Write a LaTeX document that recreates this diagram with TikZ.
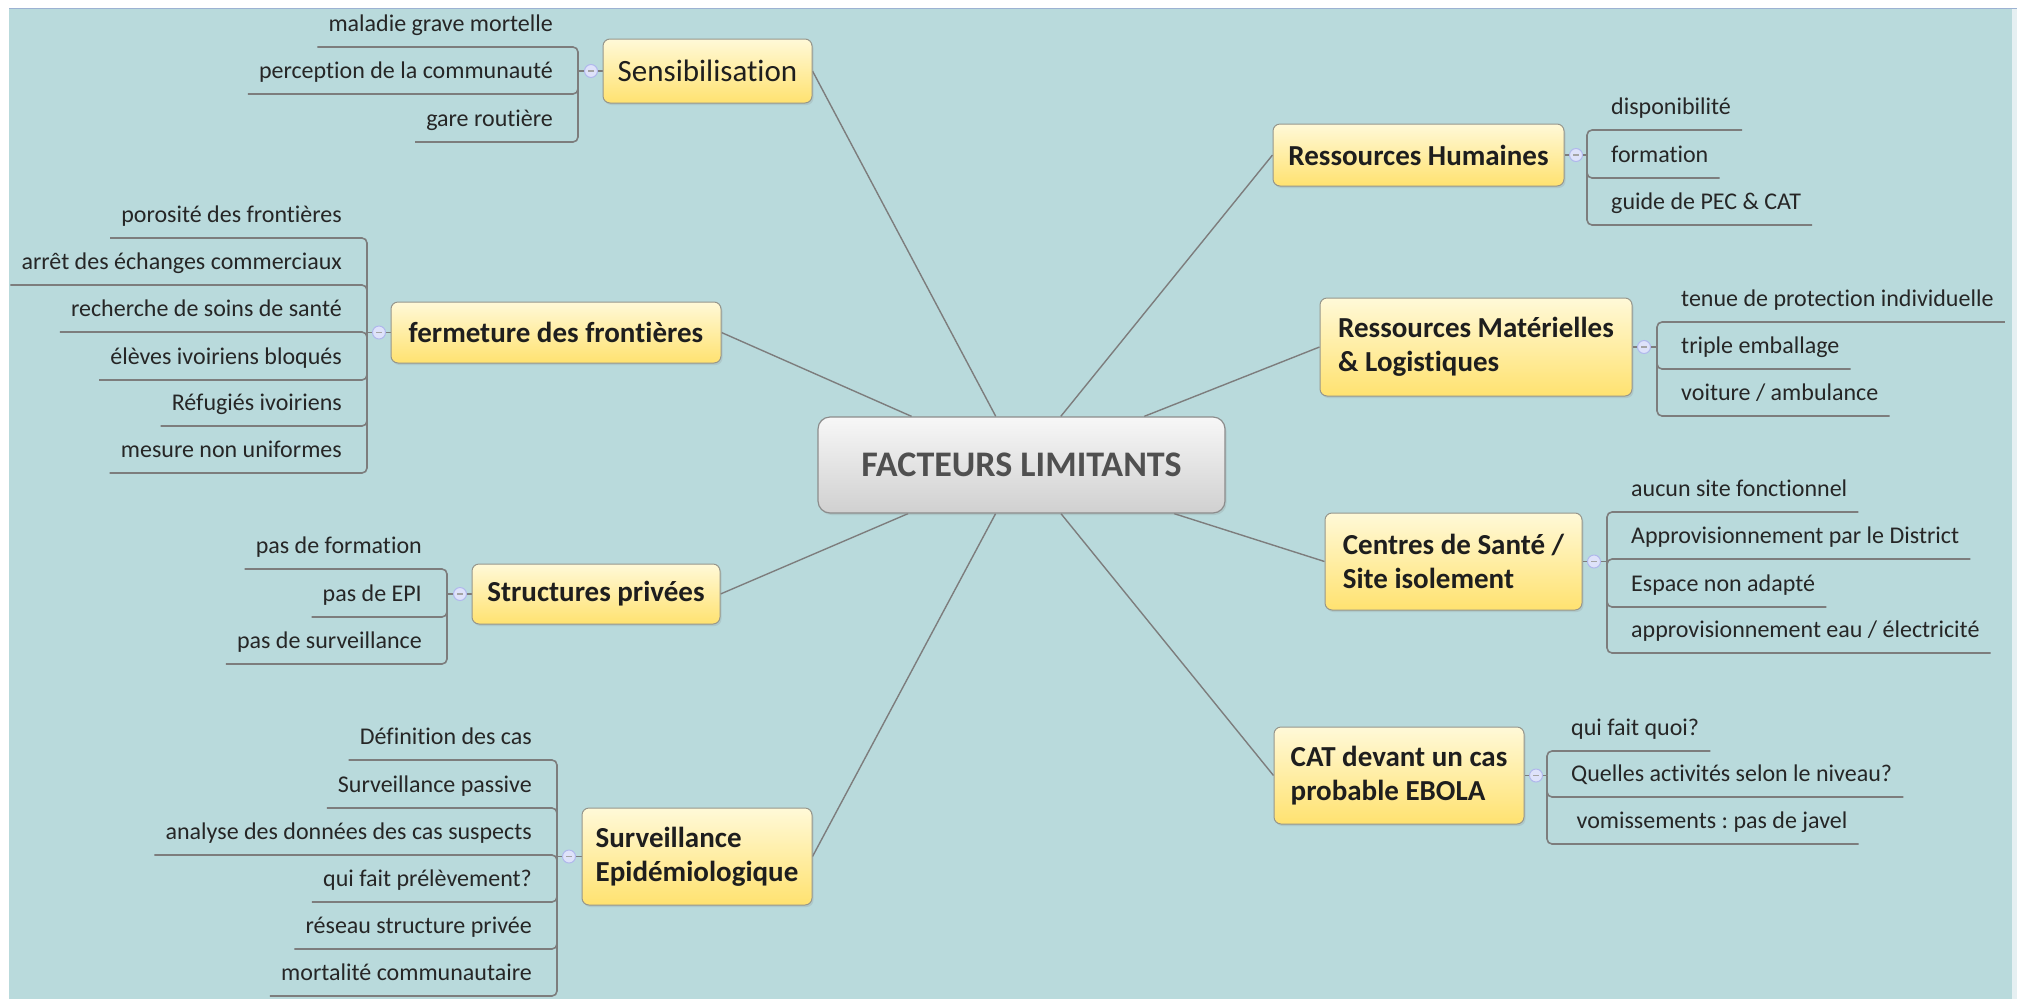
\documentclass[tikz,border=0pt]{standalone}
\usepackage{fontspec}
\setmainfont{Carlito}[Ligatures={NoCommon,NoRare,NoContextual}]
\frenchspacing
\usetikzlibrary{shadows,calc}
\pgfdeclarelayer{back}
\pgfdeclarelayer{lines}
\pgfsetlayers{back,lines,main}
\definecolor{bgc}{RGB}{185,218,220}
\definecolor{edgec}{RGB}{230,240,242}
\definecolor{topline}{RGB}{156,178,210}
\definecolor{conn}{RGB}{125,125,125}
\definecolor{ytop}{RGB}{255,249,216}
\definecolor{ybot}{RGB}{255,226,112}
\definecolor{yborder}{RGB}{150,150,140}
\definecolor{gtop}{RGB}{247,247,247}
\definecolor{gbot}{RGB}{208,208,208}
\definecolor{gborder}{RGB}{140,140,140}
\definecolor{ctext}{RGB}{80,80,80}
\definecolor{btext}{RGB}{30,30,30}
\definecolor{ltext}{RGB}{38,38,38}
\definecolor{circfill}{RGB}{222,226,250}
\definecolor{circdraw}{RGB}{176,184,236}
\tikzset{
 mainline/.style={draw=conn, line width=1.4pt},
 leafline/.style={draw=conn, line width=1.6pt, rounded corners=5pt},
 stubline/.style={draw=conn, line width=1.2pt},
 centerbox/.style={rectangle, rounded corners=12pt, draw=gborder, line width=1.2pt,
   top color=gtop, bottom color=gbot, text=ctext,
   font=\fontsize{36}{40}\selectfont\bfseries, inner sep=0pt,
   drop shadow={opacity=0.2, shadow xshift=1.5pt, shadow yshift=-2pt}},
 branchbox/.style={rectangle, rounded corners=7pt, draw=yborder, line width=1pt,
   top color=ytop, bottom color=ybot, text=btext, align=left, inner sep=0pt,
   font=\fontsize{29}{34}\selectfont\bfseries,
   drop shadow={opacity=0.18, shadow xshift=1.5pt, shadow yshift=-2pt}},
 sensbox/.style={branchbox, font=\fontsize{31}{36}\selectfont},
 leafR/.style={anchor=south west, inner xsep=11pt, inner ysep=15pt, text depth=0pt,
   text=ltext, font=\fontsize{24}{28}\selectfont},
 leafL/.style={leafR, anchor=south east},
 fold/.style={circle, minimum size=13pt, inner sep=0pt, fill=circfill, draw=circdraw,
   line width=1pt, path picture={\draw[conn!70, line width=1.2pt]
   ([xshift=-3pt]path picture bounding box.center) --
   ([xshift=3pt]path picture bounding box.center);}},
}
\begin{document}
\begin{tikzpicture}[x=1pt,y=-1pt]
\useasboundingbox (0,0) rectangle (2017,999);
\begin{pgfonlayer}{back}
\fill[edgec] (2012,8) rectangle (2017,999);
\fill[bgc] (9,8) rectangle (2012,999);
\draw[topline, line width=1.5pt] (9,8.5) -- (2017,8.5);
\end{pgfonlayer}

% central topic
\node[centerbox, minimum width=407pt, minimum height=96pt] (center) at (1021.5,465) {FACTEURS LIMITANTS};

% branch topics
\node[sensbox, minimum width=209pt, minimum height=64pt] (sens) at (707.5,71) {Sensibilisation};
\node[branchbox, minimum width=330pt, minimum height=61pt] (ferm) at (556,332.5) {fermeture des frontières};
\node[branchbox, minimum width=248pt, minimum height=60pt] (struct) at (596,594) {Structures privées};
\node[branchbox, minimum width=230pt, minimum height=97pt] (surv) at (697,856.5) {Surveillance\\Epidémiologique};
\node[branchbox, minimum width=291pt, minimum height=62pt] (rh) at (1418.5,155) {Ressources Humaines};
\node[branchbox, minimum width=312pt, minimum height=98pt] (rm) at (1476,347) {Ressources Matérielles\\\& Logistiques};
\node[branchbox, minimum width=257pt, minimum height=97pt] (cs) at (1453.5,561.5) {Centres de Santé /\\Site isolement};
\node[branchbox, minimum width=250pt, minimum height=97pt] (cat) at (1399,775.5) {CAT devant un cas\\probable EBOLA};

% fold circles
\node[fold] (sensc) at (591,71) {};
\node[fold] (fermc) at (379,332.5) {};
\node[fold] (structc) at (460,594) {};
\node[fold] (survc) at (569,856.5) {};
\node[fold] (rhc) at (1576,155) {};
\node[fold] (rmc) at (1644,347) {};
\node[fold] (csc) at (1594,561.5) {};
\node[fold] (catc) at (1536,775.5) {};

% junctions
\coordinate (sensj) at (578,71);
\coordinate (fermj) at (367,332.5);
\coordinate (structj) at (447,594);
\coordinate (survj) at (557,856.5);
\coordinate (rhj) at (1587,155);
\coordinate (rmj) at (1657,347);
\coordinate (csj) at (1607,561.5);
\coordinate (catj) at (1547,775.5);

% leaves : Sensibilisation
\node[leafL] (s1) at (564,47) {maladie grave mortelle};
\node[leafL] (s2) at (564,94) {perception de la communauté};
\node[leafL] (s3) at (564,142) {gare routière};
% fermeture
\node[leafL] (f1) at (353,238) {porosité des frontières};
\node[leafL] (f2) at (353,285) {arrêt des échanges commerciaux};
\node[leafL] (f3) at (353,332) {recherche de soins de santé};
\node[leafL] (f4) at (353,380) {élèves ivoiriens bloqués};
\node[leafL] (f5) at (353,426) {Réfugiés ivoiriens};
\node[leafL] (f6) at (353,473) {mesure non uniformes};
% structures
\node[leafL] (p1) at (433,569) {pas de formation};
\node[leafL] (p2) at (433,617) {pas de EPI};
\node[leafL] (p3) at (433,664) {pas de surveillance};
% surveillance
\node[leafL] (e1) at (543,760) {Définition des cas};
\node[leafL] (e2) at (543,808) {Surveillance passive};
\node[leafL] (e3) at (543,855) {analyse des données des cas suspects};
\node[leafL] (e4) at (543,902) {qui fait prélèvement?};
\node[leafL] (e5) at (543,949) {réseau structure privée};
\node[leafL] (e6) at (543,996) {mortalité communautaire};
% ressources humaines
\node[leafR] (h1) at (1600,130) {disponibilité};
\node[leafR] (h2) at (1600,178) {formation};
\node[leafR] (h3) at (1600,225) {guide de PEC \& CAT};
% ressources materielles
\node[leafR] (m1) at (1670,322) {tenue de protection individuelle};
\node[leafR] (m2) at (1670,369) {triple emballage};
\node[leafR] (m3) at (1670,416) {voiture / ambulance};
% centres de sante
\node[leafR] (c1) at (1620,512) {aucun site fonctionnel};
\node[leafR] (c2) at (1620,559) {Approvisionnement par le District};
\node[leafR] (c3) at (1620,607) {Espace non adapté};
\node[leafR] (c4) at (1620,653) {approvisionnement eau / électricité};
% CAT
\node[leafR] (a1) at (1560,751) {qui fait quoi?};
\node[leafR] (a2) at (1560,797) {Quelles activités selon le niveau?};
\node[leafR] (a3) at (1560,844) {\ vomissements : pas de javel};

\begin{pgfonlayer}{lines}
% main connectors
\foreach \b/\s in {sens/east, ferm/east, struct/east, surv/east, rh/west, rm/west, cs/west, cat/west}
  \draw[mainline] (center) -- (\b.\s);
% stubs
\foreach \b in {sens, ferm, struct, surv}
  \draw[stubline] (\b.west) -- (\b c.east) (\b c.west) -- (\b j);
\foreach \b in {rh, rm, cs, cat}
  \draw[stubline] (\b.east) -- (\b c.west) (\b c.east) -- (\b j);
% leaf connectors
\foreach \l in {s1,s2,s3} \draw[leafline] (sensj) |- (\l.south west);
\foreach \l in {f1,f2,f3,f4,f5,f6} \draw[leafline] (fermj) |- (\l.south west);
\foreach \l in {p1,p2,p3} \draw[leafline] (structj) |- (\l.south west);
\foreach \l in {e1,e2,e3,e4,e5,e6} \draw[leafline] (survj) |- (\l.south west);
\foreach \l in {h1,h2,h3} \draw[leafline] (rhj) |- (\l.south east);
\foreach \l in {m1,m2,m3} \draw[leafline] (rmj) |- (\l.south east);
\foreach \l in {c1,c2,c3,c4} \draw[leafline] (csj) |- (\l.south east);
\foreach \l in {a1,a2,a3} \draw[leafline] (catj) |- (\l.south east);
\end{pgfonlayer}
\end{tikzpicture}
\end{document}
